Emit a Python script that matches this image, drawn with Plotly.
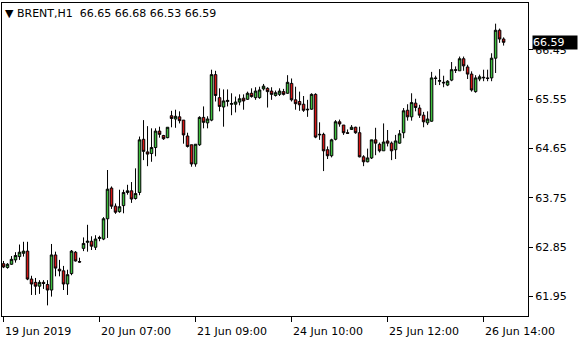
import plotly.graph_objects as go

# ---- data (BRENT, H1) ----
open_ = [62.55, 62.48, 62.54, 62.62, 62.68, 62.74, 62.78, 62.27, 62.21, 62.14,
         62.21, 62.17, 62.07, 62.71, 62.45, 62.42, 62.18, 62.37, 62.76, 62.59,
         62.83, 62.94, 62.96, 62.85, 63.01, 63.00, 63.37, 63.93, 63.60, 63.50,
         63.61, 63.85, 63.88, 63.74, 63.85, 64.82, 64.59, 64.56, 64.67, 64.97,
         64.89, 64.85, 65.25, 65.19, 65.23, 65.17, 64.88, 64.72, 64.37, 64.72,
         65.22, 65.12, 65.17, 66.00, 65.58, 65.41, 65.51, 65.46, 65.46, 65.50,
         65.57, 65.55, 65.66, 65.58, 65.58, 65.74, 65.75, 65.70, 65.62, 65.64,
         65.69, 65.66, 65.84, 65.54, 65.51, 65.46, 65.37, 65.37, 65.64, 64.90,
         64.91, 64.63, 64.52, 64.82, 65.14, 65.08, 64.94, 65.00, 65.04, 64.94,
         64.50, 64.41, 64.48, 64.81, 64.73, 64.61, 64.79, 64.75, 64.63, 64.75,
         64.94, 65.35, 65.23, 65.48, 65.39, 65.26, 65.12, 65.15, 65.94, 65.88,
         65.86, 65.81, 65.90, 66.09, 66.07, 66.29, 66.14, 66.01, 65.69, 65.92,
         65.94, 65.94, 65.94, 66.30, 66.81, 66.65]
high = [62.60, 62.56, 62.69, 62.76, 62.90, 62.95, 62.95, 62.33, 62.29, 62.25,
        62.25, 62.25, 62.91, 62.77, 62.62, 62.51, 62.44, 62.80, 62.78, 62.66,
        63.03, 63.26, 63.05, 63.07, 63.06, 63.40, 64.26, 63.96, 63.65, 63.90,
        63.90, 63.99, 64.04, 64.29, 64.87, 65.17, 65.06, 65.02, 65.02, 65.05,
        64.90, 65.04, 65.34, 65.36, 65.33, 65.17, 64.94, 64.72, 64.73, 65.24,
        65.42, 65.24, 66.09, 66.07, 65.75, 65.73, 65.73, 65.66, 65.60, 65.64,
        65.64, 65.69, 65.75, 65.77, 65.78, 65.83, 65.77, 65.77, 65.71, 65.75,
        65.74, 65.99, 65.93, 65.78, 65.69, 65.61, 65.54, 65.66, 65.66, 65.13,
        64.94, 64.69, 64.83, 65.17, 65.18, 65.08, 65.00, 65.08, 65.05, 65.05,
        64.53, 64.65, 64.81, 65.03, 64.76, 65.11, 64.99, 64.78, 64.90, 64.99,
        65.39, 65.46, 65.66, 65.56, 65.45, 65.32, 65.33, 66.05, 65.98, 66.10,
        65.98, 65.90, 66.23, 66.15, 66.33, 66.33, 66.18, 66.06, 65.99, 66.00,
        66.09, 66.09, 66.39, 66.93, 66.84, 66.68]
low = [62.47, 62.46, 62.53, 62.57, 62.62, 62.68, 62.25, 61.98, 61.98, 62.00,
       62.09, 61.79, 61.95, 62.32, 62.32, 62.07, 61.98, 62.34, 62.59, 62.57,
       62.78, 62.77, 62.80, 62.80, 62.96, 62.98, 63.02, 63.55, 63.46, 63.48,
       63.47, 63.81, 63.66, 63.72, 63.80, 64.44, 64.33, 64.41, 64.51, 64.85,
       64.81, 64.84, 65.04, 65.03, 65.11, 64.74, 64.67, 64.32, 64.32, 64.70,
       65.02, 65.02, 65.15, 65.51, 65.33, 65.05, 65.42, 65.26, 65.31, 65.44,
       65.36, 65.54, 65.58, 65.54, 65.56, 65.71, 65.40, 65.54, 65.60, 65.61,
       65.62, 65.65, 65.51, 65.36, 65.34, 65.32, 65.23, 65.36, 64.84, 64.81,
       64.24, 64.46, 64.49, 64.80, 65.05, 64.90, 64.92, 64.99, 64.92, 64.49,
       64.33, 64.40, 64.46, 64.53, 64.58, 64.61, 64.69, 64.44, 64.46, 64.74,
       64.84, 65.16, 65.16, 65.33, 65.21, 65.04, 65.08, 65.14, 65.81, 65.81,
       65.77, 65.79, 65.88, 66.03, 66.07, 66.07, 65.92, 65.69, 65.67, 65.88,
       65.88, 65.88, 65.88, 66.03, 66.58, 66.53]
close = [62.49, 62.54, 62.63, 62.70, 62.76, 62.78, 62.27, 62.18, 62.14, 62.21,
         62.19, 62.07, 62.71, 62.47, 62.42, 62.18, 62.35, 62.78, 62.60, 62.58,
         62.92, 62.96, 62.87, 63.00, 63.03, 63.37, 63.91, 63.60, 63.49, 63.59,
         63.85, 63.88, 63.73, 63.83, 64.81, 64.60, 64.55, 64.67, 64.97, 64.91,
         64.83, 65.04, 65.20, 65.24, 65.16, 64.90, 64.69, 64.37, 64.73, 65.22,
         65.13, 65.19, 66.00, 65.62, 65.42, 65.52, 65.53, 65.47, 65.50, 65.56,
         65.52, 65.66, 65.60, 65.70, 65.72, 65.79, 65.69, 65.64, 65.67, 65.70,
         65.64, 65.86, 65.54, 65.47, 65.45, 65.35, 65.36, 65.64, 64.86, 64.91,
         64.61, 64.52, 64.81, 65.14, 65.10, 64.94, 64.93, 65.04, 64.94, 64.50,
         64.41, 64.48, 64.81, 64.75, 64.61, 64.77, 64.75, 64.61, 64.79, 64.92,
         65.34, 65.23, 65.49, 65.40, 65.26, 65.14, 65.19, 65.94, 65.93, 65.89,
         65.85, 65.88, 66.09, 66.08, 66.29, 66.16, 66.01, 65.72, 65.94, 65.96,
         65.95, 65.93, 66.30, 66.81, 66.65, 66.59]

bar_index = list(range(len(open_)))
x_tick_bars = [0, 24, 48, 72, 96, 120]
x_tick_labels = ["19 Jun 2019", "20 Jun 07:00", "21 Jun 09:00",
                 "24 Jun 10:00", "25 Jun 12:00", "26 Jun 14:00"]
y_ticks = [61.95, 62.85, 63.75, 64.65, 65.55, 66.45]
symbol = "BRENT,H1"
last_price = close[-1]

FONT = "DejaVu Sans"

fig = go.Figure()
fig.add_trace(go.Candlestick(
    x=bar_index, open=open_, high=high, low=low, close=close,
    increasing=dict(line=dict(color="black", width=1), fillcolor="#3DBF3D"),
    decreasing=dict(line=dict(color="black", width=1), fillcolor="#D41414"),
    whiskerwidth=0, hoverinfo="skip", showlegend=False,
))

annotations = []
for b, lab in zip(x_tick_bars, x_tick_labels):
    annotations.append(dict(
        x=b, xref="x", y=0, yref="paper", yshift=-7,
        text=lab, showarrow=False, xanchor="left", yanchor="top",
        xshift=-1, font=dict(family=FONT, size=11, color="black"),
    ))

annotations.append(dict(
    x=0, xref="paper", y=1, yref="paper", xshift=1, yshift=-2,
    text="▼ " + symbol + "  " + " ".join(f"{v:.2f}" for v in
                                           (open_[-1], high[-1], low[-1], close[-1])),
    showarrow=False, xanchor="left", yanchor="top",
    font=dict(family=FONT, size=11, color="black"),
))
annotations.append(dict(
    x=1, xref="paper", y=last_price, yref="y", xshift=4,
    text=f"{last_price:.2f}", showarrow=False, xanchor="left", yanchor="middle",
    bgcolor="black", borderpad=0, width=44, align="left",
    font=dict(family=FONT, size=11, color="white"),
))

fig.update_layout(
    width=580, height=340,
    margin=dict(l=2, r=52, t=3, b=24),
    paper_bgcolor="white", plot_bgcolor="white",
    boxgap=0.1,
    annotations=annotations,
    font=dict(family=FONT, size=11, color="black"),
)
fig.update_xaxes(
    range=[-0.375, 131.1], rangeslider_visible=False,
    showgrid=False, zeroline=False,
    showline=True, linecolor="black", linewidth=1, mirror=True,
    tickmode="array", tickvals=x_tick_bars, ticktext=[""] * len(x_tick_bars),
    ticks="outside", ticklen=5, tickcolor="black", tickwidth=1,
)
fig.update_yaxes(
    range=[61.596, 67.307], side="right",
    showgrid=False, zeroline=False,
    showline=True, linecolor="black", linewidth=1, mirror=True,
    tickmode="array", tickvals=y_ticks, ticktext=[f"{v:.2f}" for v in y_ticks],
    ticks="outside", ticklen=4, tickcolor="black", tickwidth=1,
    tickfont=dict(family=FONT, size=11, color="black"),
)

fig.write_html("out.html")
